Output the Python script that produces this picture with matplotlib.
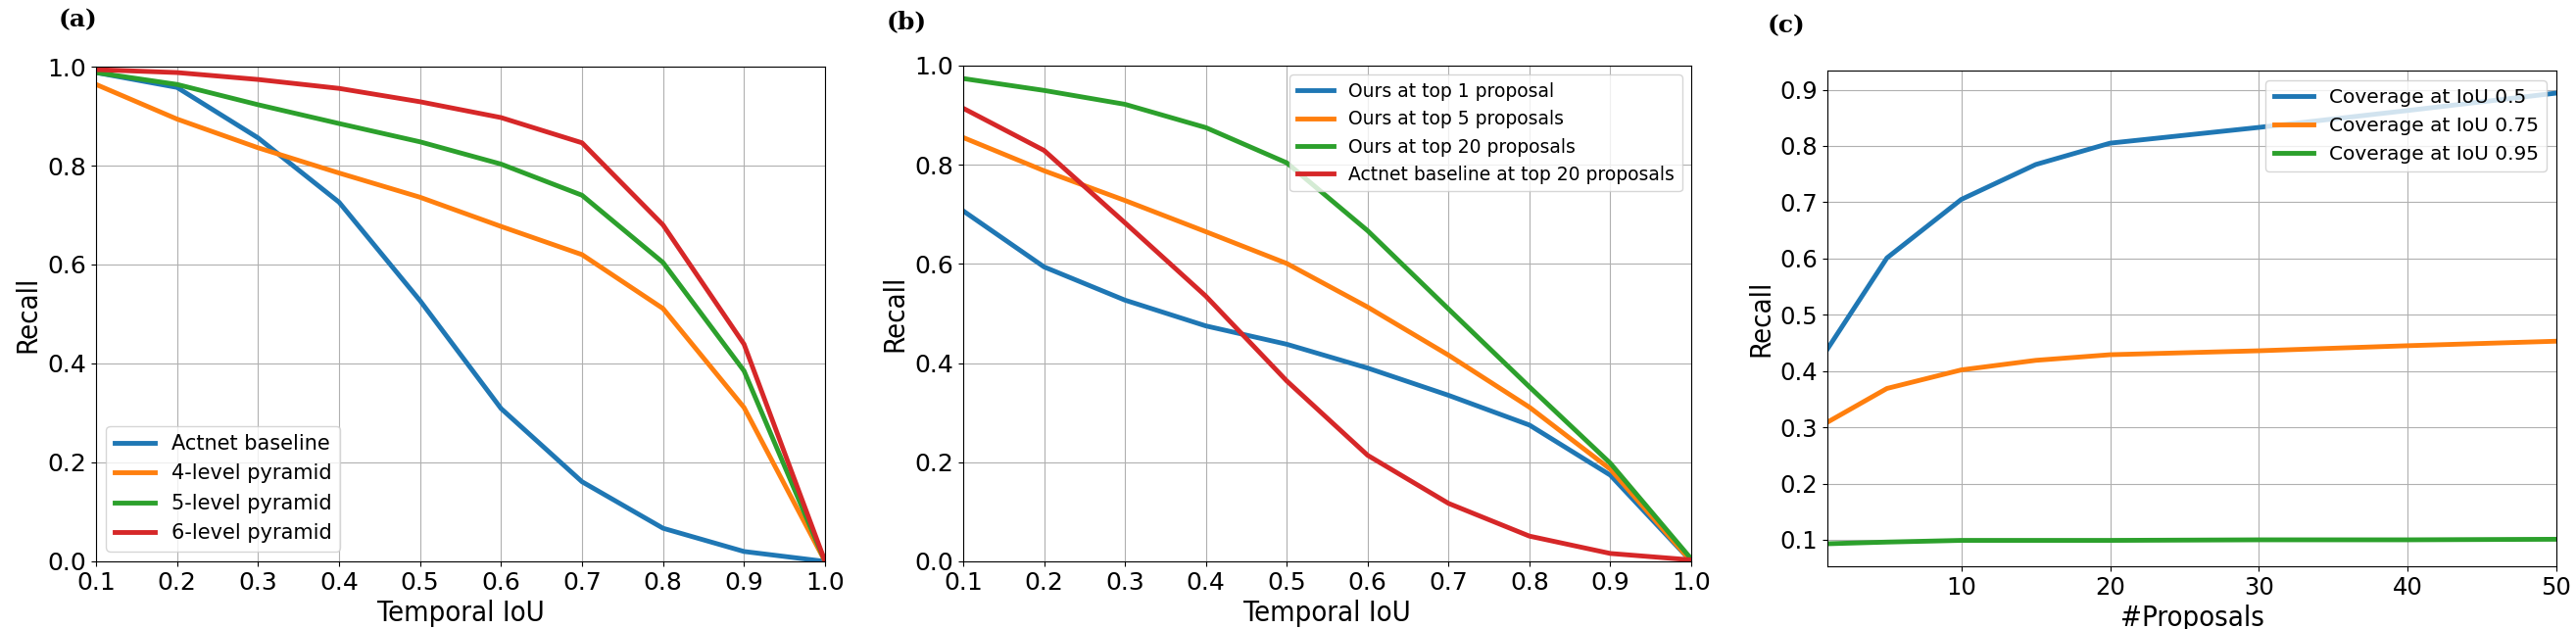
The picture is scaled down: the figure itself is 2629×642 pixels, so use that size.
import matplotlib
matplotlib.use('Agg')
from matplotlib import pyplot as plt

# (a) recall vs temporal IoU, pyramid levels
iou = [0.1, 0.2, 0.3, 0.4, 0.5, 0.6, 0.7, 0.8, 0.9, 1.0]
actnet_baseline = [0.988, 0.958, 0.856, 0.726, 0.527, 0.309, 0.161, 0.067, 0.020, 0.0]
pyramid_4 = [0.964, 0.894, 0.836, 0.785, 0.736, 0.677, 0.620, 0.511, 0.311, 0.0]
pyramid_5 = [0.988, 0.964, 0.923, 0.885, 0.848, 0.803, 0.740, 0.604, 0.385, 0.0]
pyramid_6 = [0.994, 0.988, 0.974, 0.956, 0.929, 0.897, 0.846, 0.680, 0.439, 0.0]

# (b) recall vs temporal IoU, top-k proposals
ours_top1 = [0.707, 0.594, 0.527, 0.475, 0.438, 0.390, 0.335, 0.275, 0.174, 0.0]
ours_top5 = [0.855, 0.788, 0.728, 0.665, 0.601, 0.513, 0.416, 0.311, 0.186, 0.0]
ours_top20 = [0.974, 0.950, 0.922, 0.875, 0.804, 0.667, 0.509, 0.352, 0.198, 0.005]
actnet_top20 = [0.914, 0.829, 0.683, 0.535, 0.364, 0.214, 0.117, 0.051, 0.016, 0.003]

# (c) coverage vs number of proposals
n_proposals = [1, 5, 10, 15, 20, 30, 40, 50]
cov_05 = [0.439, 0.601, 0.705, 0.767, 0.805, 0.833, 0.863, 0.894]
cov_075 = [0.309, 0.369, 0.402, 0.419, 0.429, 0.436, 0.445, 0.453]
cov_095 = [0.093, 0.096, 0.099, 0.099, 0.099, 0.100, 0.100, 0.101]

LW = 3.5
label_kw = dict(fontsize=21, fontstretch='condensed')

fig = plt.figure(figsize=(26.29, 6.42), dpi=100)

ax1 = fig.add_axes([0.03728, 0.10748, 0.28300, 0.78660])
ax1.plot(iou, actnet_baseline, lw=LW, color='C0', label='Actnet baseline')
ax1.plot(iou, pyramid_4, lw=LW, color='C1', label='4-level pyramid')
ax1.plot(iou, pyramid_5, lw=LW, color='C2', label='5-level pyramid')
ax1.plot(iou, pyramid_6, lw=LW, color='C3', label='6-level pyramid')
ax1.set_xlim(0.1, 1.0)
ax1.set_ylim(0.0, 1.0)
ax1.set_xticks(iou)
ax1.set_xlabel('Temporal IoU', **label_kw)
ax1.set_ylabel('Recall', **label_kw)
ax1.tick_params(labelsize=18)
ax1.grid(True)
ax1.legend(loc='lower left', fontsize=15)

ax2 = fig.add_axes([0.37391, 0.10748, 0.28262, 0.78816])
ax2.plot(iou, ours_top1, lw=LW, color='C0', label='Ours at top 1 proposal')
ax2.plot(iou, ours_top5, lw=LW, color='C1', label='Ours at top 5 proposals')
ax2.plot(iou, ours_top20, lw=LW, color='C2', label='Ours at top 20 proposals')
ax2.plot(iou, actnet_top20, lw=LW, color='C3', label='Actnet baseline at top 20 proposals')
ax2.set_xlim(0.1, 1.0)
ax2.set_ylim(0.0, 1.0)
ax2.set_xticks(iou)
ax2.set_xlabel('Temporal IoU', **label_kw)
ax2.set_ylabel('Recall', **label_kw)
ax2.tick_params(labelsize=18)
ax2.grid(True)
ax2.legend(loc='upper right', fontsize=13.5)

ax3 = fig.add_axes([0.70940, 0.09969, 0.28300, 0.78816])
ax3.plot(n_proposals, cov_05, lw=LW, color='C0', label='Coverage at IoU 0.5')
ax3.plot(n_proposals, cov_075, lw=LW, color='C1', label='Coverage at IoU 0.75')
ax3.plot(n_proposals, cov_095, lw=LW, color='C2', label='Coverage at IoU 0.95')
ax3.set_xlim(1, 50)
ax3.set_xticks([10, 20, 30, 40, 50])
ax3.set_yticks([0.1, 0.2, 0.3, 0.4, 0.5, 0.6, 0.7, 0.8, 0.9])
ax3.set_xlabel('#Proposals', **label_kw)
ax3.set_ylabel('Recall', **label_kw)
ax3.tick_params(labelsize=17.5)
ax3.grid(True)
ax3.legend(loc='upper right', fontsize=14.5)

for x, y, s in [(0.0228, 0.9875, '(a)'), (0.3442, 0.984, '(b)'), (0.6862, 0.978, '(c)')]:
    fig.text(x, y, s, fontsize=18, fontweight='bold', family='DejaVu Serif', va='top', ha='left')

fig.savefig('out.png', dpi=100)
